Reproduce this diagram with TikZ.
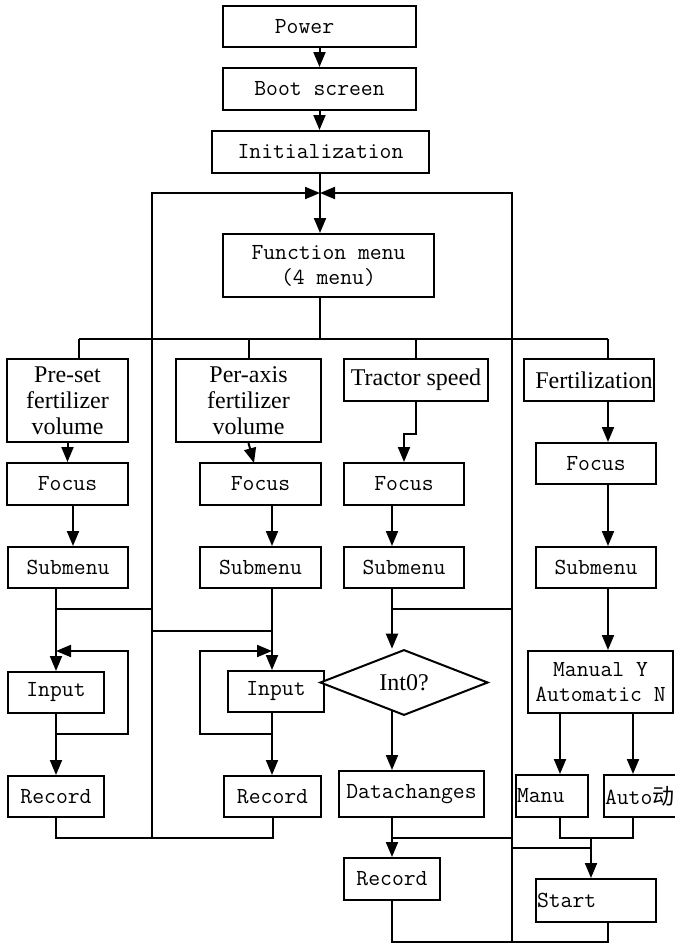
\documentclass[tikz,border=0pt]{standalone}
\usepackage{fontspec}
\newfontfamily\monof{Latin Modern Mono}
\newfontfamily\timesf{Liberation Serif}
\newfontfamily\cjkf{Noto Sans CJK SC}
\usetikzlibrary{arrows.meta,shapes.geometric,backgrounds}
\begin{document}
\begin{tikzpicture}[x=1pt,y=-1pt,
  box/.style={draw,line width=2pt,fill=white,inner sep=1pt,align=center,
    font=\monof\fontsize{23}{25}\selectfont},
  tbox/.style={box,font=\timesf\fontsize{24}{26}\selectfont},
  lbox/.style={box,align=left},
  conn/.style={line width=2pt},
  arr/.style={conn,-{Triangle[length=15pt,width=12pt]}}]
\useasboundingbox (0,0) rectangle (675,943);
% nodes
\node[box,minimum width=193pt,minimum height=41pt] (power) at (319.5,26.5) {Power\hspace{30pt}};
\node[box,minimum width=193pt,minimum height=42pt] (boot) at (319.5,89) {Boot screen};
\node[box,minimum width=217pt,minimum height=42pt] (init) at (320.5,152) {Initialization};
\node[box,minimum width=211pt,minimum height=63pt] (fmenu) at (328.5,265.5) {Function menu\\(4 menu)};
\node[tbox,minimum width=121pt,minimum height=83pt] (preset) at (67.5,400.5) {Pre-set\\fertilizer\\volume};
\node[tbox,minimum width=145pt,minimum height=83pt] (peraxis) at (248.5,400.5) {Per-axis\\fertilizer\\volume};
\node[tbox,minimum width=144pt,minimum height=42pt] (tractor) at (416,380) {Tractor speed};
\node[tbox,minimum width=130pt,minimum height=42pt] (fert) at (589,380) {\hspace{10pt}Fertilization};
\node[box,minimum width=121pt,minimum height=42pt] (focus1) at (67.5,484) {Focus};
\node[box,minimum width=121pt,minimum height=42pt] (focus2) at (260.5,484) {Focus};
\node[box,minimum width=120pt,minimum height=42pt] (focus3) at (404,484) {Focus};
\node[box,minimum width=120pt,minimum height=41pt] (focus4) at (596,463.5) {Focus};
\node[box,minimum width=120pt,minimum height=41pt] (sub1) at (68,567.5) {Submenu};
\node[box,minimum width=121pt,minimum height=41pt] (sub2) at (260.5,567.5) {Submenu};
\node[box,minimum width=120pt,minimum height=41pt] (sub3) at (404,567.5) {Submenu};
\node[box,minimum width=120pt,minimum height=41pt] (sub4) at (596,567.5) {Submenu};
\node[box,minimum width=96pt,minimum height=41pt] (input1) at (56,692.5) {Input};
\node[box,minimum width=96pt,minimum height=41pt] (input2) at (276,691.5) {Input};
\node[box,minimum width=96pt,minimum height=41pt] (rec1) at (56,796.5) {Record};
\node[box,minimum width=97pt,minimum height=41pt] (rec2) at (272.5,796.5) {Record};
\node[tbox,diamond,inner sep=0pt,minimum width=168pt,minimum height=61pt] (int0) at (404,682.5) {Int0?};
\node[box,minimum width=145pt,minimum height=46pt] (datach) at (411.5,794) {Datachanges};
\node[box,minimum width=96pt,minimum height=42pt] (rec3) at (392,879) {Record};
\node[box,minimum width=145pt,minimum height=62pt] (manual) at (600.5,682) {Manual Y\\Automatic N};
\node[lbox,text width=70pt,minimum height=42pt] (manu) at (552,796) {Manu};
\node[lbox,text width=70pt,minimum height=42pt] (auto) at (640,796) {Auto{\cjkf\fontsize{22}{22}\selectfont 动}};
\node[lbox,text width=118pt,minimum height=43pt] (start) at (596,900.5) {Start};
% coordinates
\coordinate (J) at (320,193);
\coordinate (LT) at (152,193);
\coordinate (LB) at (152,838);
\coordinate (RT) at (512,193);
\coordinate (RB) at (512,942);
\coordinate (B) at (320,339);
\coordinate (BL) at (79,339);
\coordinate (BR) at (608,339);
\coordinate (P2) at (254,463);
\coordinate (X0) at (56,0);
\coordinate (X1) at (73,0);
\coordinate (X2) at (272,0);
\coordinate (X3) at (392,0);
\coordinate (H1) at (56,609);
\coordinate (H2) at (272,631);
\coordinate (H3) at (392,609);
\coordinate (H4) at (392,838);
\coordinate (H5) at (512,848);
\coordinate (L1a) at (56,734);
\coordinate (L1b) at (128,651);
\coordinate (L2a) at (272,734);
\coordinate (L2b) at (200,651);
\coordinate (XM) at (560,0);
\coordinate (XA) at (633,0);
\coordinate (XS) at (591,0);
\begin{pgfonlayer}{background}
\draw[arr] (power.south) -- (power.south |- boot.north);
\draw[arr] (boot.south) -- (boot.south |- init.north);
\draw[conn] (J |- init.south) -- (J);
\draw[arr] (J) -- (J |- fmenu.north);
\draw[arr] (LB) -- (LT) -- (J);
\draw[arr] (RB) -- (RT) -- (J);
\draw[conn] (J |- fmenu.south) -- (B);
\draw[conn] (BL) -- (BR);
\draw[conn] (BL) -- (BL |- preset.north);
\draw[conn] (peraxis.north |- B) -- (peraxis.north);
\draw[conn] (tractor.north |- B) -- (tractor.north);
\draw[conn] (BR) -- (BR |- fert.north);
% column 1
\draw[arr] (preset.south) -- (preset.south |- focus1.north);
\draw[arr] (focus1.south -| X1) -- (sub1.north -| X1);
\draw[arr] (sub1.south -| X0) -- (input1.north -| X0);
\draw[conn] (H1) -- (H1 -| LT);
\draw[arr] (L1a) -| (L1b) -- (L1b -| X0);
\draw[arr] (input1) -- (rec1);
\draw[conn] (rec1.south) -- (rec1.south |- LB) -| (rec2.south);
% column 2
\draw[arr] (peraxis.south) -- (P2);
\draw[arr] (focus2.south -| X2) -- (sub2.north -| X2);
\draw[arr] (sub2.south -| X2) -- (input2.north -| X2);
\draw[conn] (H2) -- (H2 -| LT);
\draw[arr] (L2a) -| (L2b) -- (L2b -| X2);
\draw[arr] (input2.south -| X2) -- (rec2.north -| X2);
% column 3
\draw[arr] (tractor.south) -- ++(0,32) -| (focus3.north);
\draw[arr] (focus3.south -| X3) -- (sub3.north -| X3);
\draw[arr] (sub3.south -| X3) -- (int0.north -| X3);
\draw[conn] (H3) -- (H3 -| RT);
\draw[arr] (int0.center -| X3) -- (datach.north -| X3);
\draw[arr] (datach.south -| X3) -- (rec3.north -| X3);
\draw[conn] (H4) -- (H4 -| RT);
\draw[conn] (rec3.south) -- (rec3.south |- RB) -| (start.south -| BR);
% column 4
\draw[arr] (BR |- fert.south) -- (BR |- focus4.north);
\draw[arr] (BR |- focus4.south) -- (BR |- sub4.north);
\draw[arr] (sub4.south -| BR) -- (manual.north -| BR);
\draw[arr] (manual.south -| XM) -- (manu.north -| XM);
\draw[arr] (manual.south -| XA) -- (auto.north -| XA);
\draw[conn] (manu.south -| XM) -- (XM |- H4) -- (XA |- H4) -- (auto.south -| XA);
\draw[arr] (XS |- H4) -- (start.north -| XS);
\draw[conn] (H5) -- (H5 -| XS);
\end{pgfonlayer}
\end{tikzpicture}
\end{document}
